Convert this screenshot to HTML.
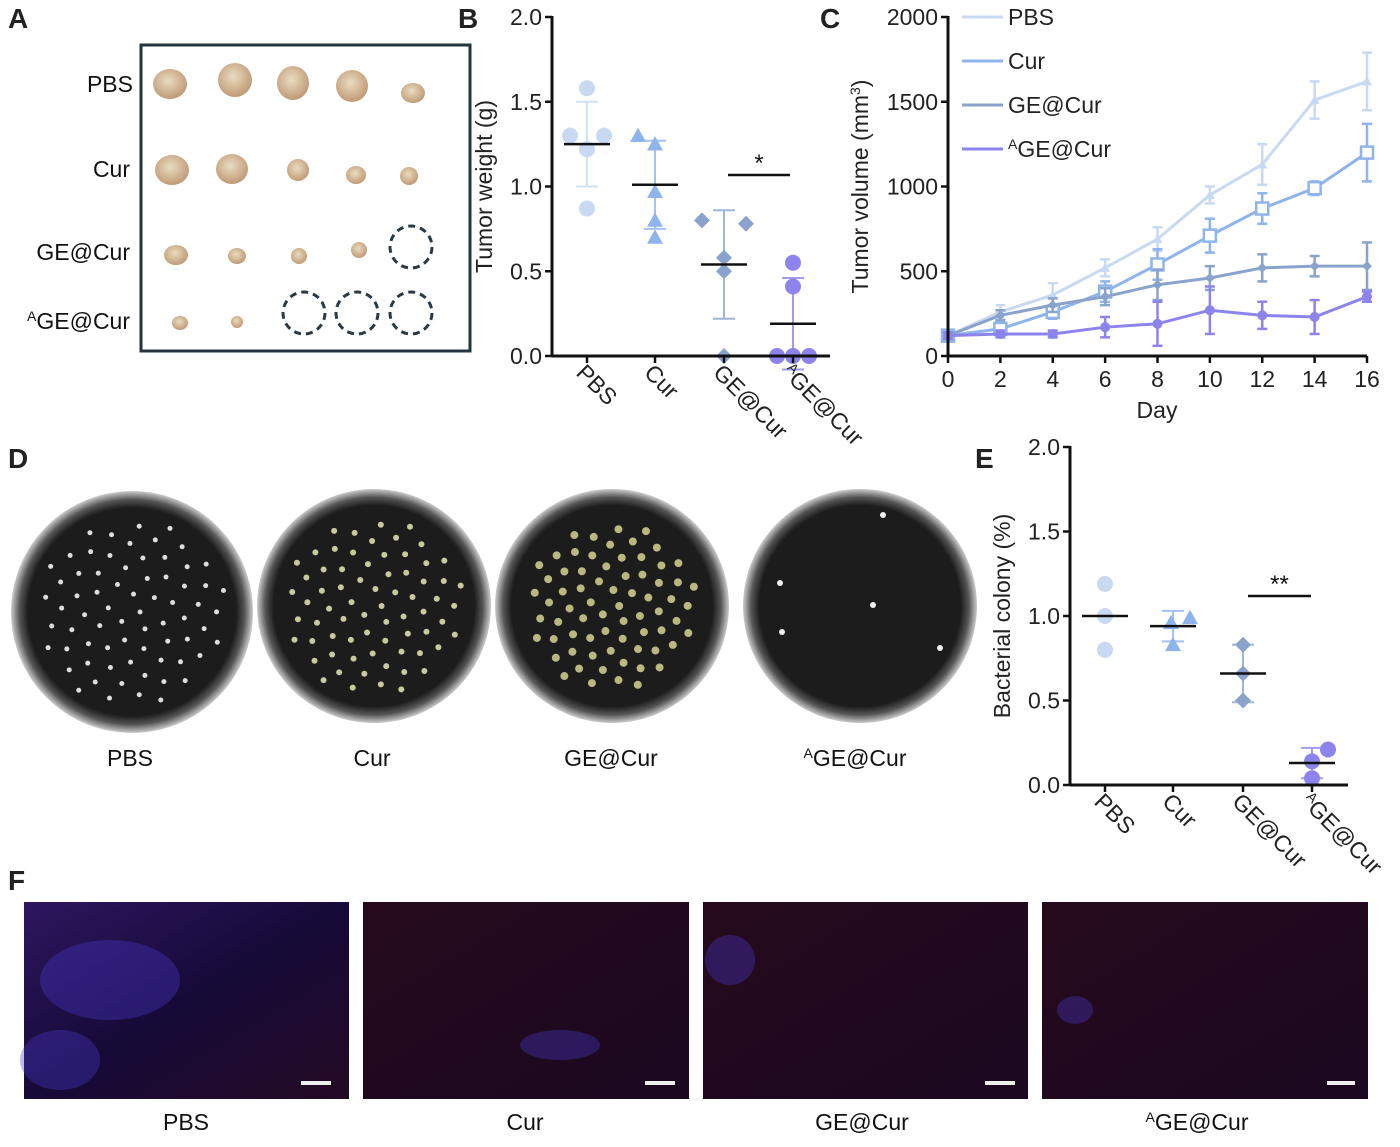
<!DOCTYPE html>
<html><head><meta charset="utf-8">
<style>
body{margin:0;background:#fff;width:1400px;height:1142px;overflow:hidden;font-family:"Liberation Sans",Arial,sans-serif;}
svg text{font-family:"Liberation Sans",Arial,sans-serif;}
</style></head>
<body>
<svg width="1400" height="1142" viewBox="0 0 1400 1142">
<defs>
<radialGradient id="plate" cx="50%" cy="50%" r="50%"><stop offset="0.86" stop-color="#1c1c1c"/><stop offset="0.93" stop-color="#555"/><stop offset="1" stop-color="#ccc"/></radialGradient>
<radialGradient id="tum" cx="45%" cy="40%" r="60%"><stop offset="0" stop-color="#e9dcc0"/><stop offset="1" stop-color="#c09a76"/></radialGradient>
<linearGradient id="fl1" x1="0" y1="0" x2="1" y2="1"><stop offset="0" stop-color="#2e1660"/><stop offset="0.5" stop-color="#160a38"/><stop offset="1" stop-color="#240a24"/></linearGradient>
<linearGradient id="fl2" x1="0" y1="0" x2="1" y2="1"><stop offset="0" stop-color="#260a1c"/><stop offset="1" stop-color="#1a0820"/></linearGradient>
</defs>
<g font-weight="bold" font-size="28" fill="#222">
<text x="8" y="28">A</text>
<text x="458" y="28">B</text>
<text x="820" y="28">C</text>
<text x="8" y="468">D</text>
<text x="975" y="468">E</text>
<text x="8" y="890">F</text>
</g>
<g>
<rect x="141" y="45" width="329" height="306" fill="#fff" stroke="#23343c" stroke-width="3"/>
<g font-size="23" fill="#111" text-anchor="end">
<text x="133" y="92">PBS</text><text x="130" y="177">Cur</text><text x="130" y="260">GE@Cur</text><text x="130" y="329"><tspan font-size="14" dy="-8">A</tspan><tspan dy="8">GE@Cur</tspan></text>
</g>
<g fill="url(#tum)">
<ellipse cx="170" cy="84" rx="17" ry="15"/><ellipse cx="235" cy="80" rx="17" ry="17"/><ellipse cx="293" cy="83" rx="16" ry="17"/><ellipse cx="352" cy="86" rx="16" ry="16"/><ellipse cx="413" cy="93" rx="12" ry="10"/>
<ellipse cx="172" cy="170" rx="17" ry="15"/><ellipse cx="232" cy="169" rx="16" ry="15"/><ellipse cx="298" cy="170" rx="11" ry="11"/><ellipse cx="356" cy="175" rx="10" ry="9"/><ellipse cx="409" cy="176" rx="9" ry="9"/>
<ellipse cx="176" cy="255" rx="12" ry="10"/><ellipse cx="237" cy="256" rx="9" ry="8"/><ellipse cx="299" cy="256" rx="8" ry="8"/><ellipse cx="359" cy="250" rx="8" ry="8"/>
<ellipse cx="180" cy="323" rx="8" ry="7"/><ellipse cx="237" cy="322" rx="6" ry="6"/>
</g>
<g fill="none" stroke="#2a3a44" stroke-width="3" stroke-dasharray="7 5">
<circle cx="411" cy="247" r="21"/><circle cx="304" cy="313" r="21"/><circle cx="357" cy="313" r="21"/><circle cx="411" cy="313" r="21"/>
</g>
</g>
<g id="chartB"></g>
<g id="chartC"></g>
<g id="chartE"></g>
<g>
<circle cx="132" cy="612" r="121" fill="url(#plate)"/>
<circle cx="374" cy="606" r="117" fill="url(#plate)"/>
<circle cx="612" cy="606" r="117" fill="url(#plate)"/>
<circle cx="860" cy="606" r="117" fill="url(#plate)"/>
<g fill="#ddd" id="dots"></g>
<g fill="#eee"><circle cx="883" cy="515" r="3"/><circle cx="780" cy="583" r="3"/><circle cx="873" cy="605" r="3"/><circle cx="782" cy="632" r="3"/><circle cx="940" cy="648" r="3"/></g>
<g font-size="23" fill="#111" text-anchor="middle">
<text x="130" y="766">PBS</text><text x="372" y="766">Cur</text><text x="611" y="766">GE@Cur</text><text x="855" y="766"><tspan font-size="14" dy="-8">A</tspan><tspan dy="8">GE@Cur</tspan></text>
</g>
</g>
<g>
<rect x="24" y="902" width="325" height="197" fill="url(#fl1)"/>
<rect x="363" y="902" width="326" height="197" fill="url(#fl2)"/>
<rect x="703" y="902" width="325" height="197" fill="url(#fl2)"/>
<rect x="1042" y="902" width="326" height="197" fill="url(#fl2)"/>
<g fill="#4a3ad0" opacity="0.35"><ellipse cx="110" cy="980" rx="70" ry="40"/><ellipse cx="60" cy="1060" rx="40" ry="30"/><ellipse cx="560" cy="1045" rx="40" ry="15"/><ellipse cx="730" cy="960" rx="25" ry="25"/><ellipse cx="1075" cy="1010" rx="18" ry="14"/></g>
<g fill="#eee"><rect x="301" y="1081" width="30" height="4"/><rect x="645" y="1081" width="30" height="4"/><rect x="985" y="1081" width="30" height="4"/><rect x="1327" y="1081" width="28" height="4"/></g>
<g font-size="23" fill="#111" text-anchor="middle">
<text x="186" y="1130">PBS</text><text x="525" y="1130">Cur</text><text x="862" y="1130">GE@Cur</text><text x="1197" y="1130"><tspan font-size="14" dy="-8">A</tspan><tspan dy="8">GE@Cur</tspan></text>
</g>
</g>
</svg>
<script>
const NS="http://www.w3.org/2000/svg";
function mk(p,t,a){const e=document.createElementNS(NS,t);for(const k in a)e.setAttribute(k,a[k]);p.appendChild(e);return e;}
const colors=["#c8d9f2","#8fb4ec","#8aa3cc","#8c84ec"];
const groups=["PBS","Cur","GE@Cur","GE@Cur"];
// Panel B data
const bPoints=[[1.58,1.30,1.22,1.30,0.87],[1.30,1.25,0.97,0.80,0.70],[0.80,0.78,0.58,0.50,0.00],[0.55,0.41,0.0,0.0,0.0]];
const bMean=[1.25,1.01,0.54,0.19];
const bSD=[0.25,0.26,0.32,0.27];
const bJitter=[[0,-17,0,17,0],[-17,0,0,0,0],[-22,22,0,0,0],[0,0,-16,0,16]];
// Panel E data
const ePoints=[[1.19,1.0,0.80],[0.96,0.99,0.83],[0.83,0.66,0.50],[0.21,0.14,0.04]];
const eMean=[1.0,0.94,0.66,0.13];
const eSD=[0.0,0.09,0.17,0.09];
const eJitter=[[0,0,0],[-2,17,0],[0,0,0],[16,0,0]];
const yTicks=["0.0","0.5","1.0","1.5","2.0"];
// Panel C data
const days=[0,2,4,6,8,10,12,14,16];
const cSeries=["PBS","Cur","GE@Cur","GE@Cur"];
const cMean=[[120,260,360,520,690,950,1130,1510,1620],[120,160,260,380,540,710,870,990,1200],[120,240,300,350,420,460,520,530,530],[120,130,130,170,190,270,240,230,350]];
const cErr=[[20,40,70,50,70,50,120,110,170],[20,30,40,60,90,100,90,40,170],[20,30,40,50,90,70,80,60,140],[20,20,20,60,130,140,80,100,30]];
const cTicks=["0","500","1000","1500","2000"];

function marker(g,i,x,y,r){
  const c=colors[i];
  let el;
  if(i===0||i===3) el=mk(g,"circle",{cx:x,cy:y,r:r,fill:c});
  else if(i===1) el=mk(g,"polygon",{points:`${x},${y-r} ${x+r},${y+r*0.8} ${x-r},${y+r*0.8}`,fill:c});
  else el=mk(g,"polygon",{points:`${x},${y-r} ${x+r},${y} ${x},${y+r} ${x-r},${y}`,fill:c});
  
  
  return el;
}

function scatter(id,ax,y0,y1,cats,right,points,jit,mean,sd,ylabel,star,starY,starX1,starX2,labelY){
  const g=document.getElementById(id);
  const ys=v=>y0+(y1-y0)*v/2.0;
  yTicks.forEach((t,k)=>{const v=k*0.5;
    mk(g,"line",{x1:ax-7,x2:ax,y1:ys(v),y2:ys(v),stroke:"#111","stroke-width":2.5});
    const tx=mk(g,"text",{x:ax-10,y:ys(v)+8,"text-anchor":"end","font-size":23,fill:"#222"});tx.textContent=t;
    });
  points.forEach((pts,i)=>{const cx=cats[i];
    const sdl=mk(g,"g",{stroke:colors[i],"stroke-width":2,opacity:0.8});
    
    mk(sdl,"line",{x1:cx,x2:cx,y1:ys(mean[i]+sd[i]),y2:ys(Math.max(0,mean[i]-sd[i]))});
    mk(sdl,"line",{x1:cx-11,x2:cx+11,y1:ys(mean[i]+sd[i]),y2:ys(mean[i]+sd[i])});
    mk(sdl,"line",{x1:cx-11,x2:cx+11,y1:ys(mean[i]-sd[i]),y2:ys(mean[i]-sd[i])});
    pts.forEach((v,k)=>marker(g,i,cx+jit[i][k],ys(v),8));
    const m=mk(g,"line",{x1:cx-23,x2:cx+23,y1:ys(mean[i]),y2:ys(mean[i]),stroke:"#111","stroke-width":2.5});
    
    mk(g,"line",{x1:cx,x2:cx,y1:y0,y2:y0+7,stroke:"#111","stroke-width":2.5});
    const lb=mk(g,"text",{transform:`translate(${cx-12},${y0+18}) rotate(45)`,"font-size":23,fill:"#222"});
    if(i===3){const ts=mk(lb,"tspan",{"font-size":14,dy:-8});ts.textContent="A";const t2=mk(lb,"tspan",{dy:8});t2.textContent="GE@Cur";}
    else lb.textContent=groups[i];
    
  });
  mk(g,"line",{x1:ax,x2:ax,y1:y1-1,y2:y0+1,stroke:"#111","stroke-width":3});
  mk(g,"line",{x1:ax,x2:right,y1:y0,y2:y0,stroke:"#111","stroke-width":3});
  mk(g,"line",{x1:starX1,x2:starX2,y1:starY,y2:starY,stroke:"#111","stroke-width":2.5});
  const st=mk(g,"text",{x:(starX1+starX2)/2,y:starY-4,"text-anchor":"middle","font-size":24,fill:"#111"});st.textContent=star;
  const yl=mk(g,"text",{transform:`translate(${labelY},${(y0+y1)/2}) rotate(-90)`,"text-anchor":"middle","font-size":23,fill:"#222"});yl.textContent=ylabel;
  
}
scatter("chartB",552,356,17,[587,655,724,793],830,bPoints,bJitter,bMean,bSD,"Tumor weight (g)","*",175,728,790,492);
scatter("chartE",1070,785,447,[1105,1173,1243,1312],1348,ePoints,eJitter,eMean,eSD,"Bacterial  colony (%)","**",596,1248,1311,1010);

(function(){
  const g=document.getElementById("chartC");
  const ax=948,x16=1367,y0=356,y1=17;
  const xs=d=>ax+(x16-ax)*d/16, ys=v=>y0+(y1-y0)*v/2000;
  cTicks.forEach((t,k)=>{const v=k*500;
    mk(g,"line",{x1:ax-7,x2:ax,y1:ys(v),y2:ys(v),stroke:"#111","stroke-width":2.5});
    const tx=mk(g,"text",{x:ax-10,y:ys(v)+8,"text-anchor":"end","font-size":23,fill:"#222"});tx.textContent=t;});
  days.forEach(d=>{mk(g,"line",{x1:xs(d),x2:xs(d),y1:y0,y2:y0+7,stroke:"#111","stroke-width":2.5});
    const tx=mk(g,"text",{x:xs(d),y:y0+31,"text-anchor":"middle","font-size":23,fill:"#222"});tx.textContent=d;});
  cMean.forEach((s,i)=>{
    const l=mk(g,"polyline",{points:s.map((v,k)=>xs(days[k])+","+ys(v)).join(" "),fill:"none",stroke:colors[i],"stroke-width":3});
    
    s.forEach((v,k)=>{const x=xs(days[k]);
      mk(g,"line",{x1:x,x2:x,y1:ys(v+cErr[i][k]),y2:ys(v-cErr[i][k]),stroke:colors[i],"stroke-width":2.5});
      mk(g,"line",{x1:x-5,x2:x+5,y1:ys(v+cErr[i][k]),y2:ys(v+cErr[i][k]),stroke:colors[i],"stroke-width":2.5});
      mk(g,"line",{x1:x-5,x2:x+5,y1:ys(v-cErr[i][k]),y2:ys(v-cErr[i][k]),stroke:colors[i],"stroke-width":2.5});
      if(i===1){const r=mk(g,"rect",{x:x-6,y:ys(v)-6,width:12,height:12,fill:"#fff",stroke:colors[i],"stroke-width":2.5});}
      else marker(g,i===0?1:i,x,ys(v),5).setAttribute('fill',colors[i]);
    });
    const ly=17+i*44;
    mk(g,"line",{x1:962,x2:1003,y1:ly,y2:ly,stroke:colors[i],"stroke-width":3});
    const lt=mk(g,"text",{x:1008,y:ly+8,"font-size":23,fill:"#222"});
    
    if(i===3){const ts=mk(lt,"tspan",{"font-size":14,dy:-8});ts.textContent="A";const t2=mk(lt,"tspan",{dy:8});t2.textContent="GE@Cur";}
    else lt.textContent=cSeries[i];
  });
  mk(g,"line",{x1:ax,x2:ax,y1:y1-1,y2:y0+1,stroke:"#111","stroke-width":3});
  mk(g,"line",{x1:ax,x2:x16,y1:y0,y2:y0,stroke:"#111","stroke-width":3});
  const xl=mk(g,"text",{x:1157,y:418,"text-anchor":"middle","font-size":23,fill:"#222"});xl.textContent="Day";
  
  const yl=mk(g,"text",{transform:`translate(868,${(y0+y1)/2}) rotate(-90)`,"text-anchor":"middle","font-size":23,fill:"#222"});
  
  const a=mk(yl,"tspan",{});a.textContent="Tumor volume (mm";const b=mk(yl,"tspan",{"font-size":14,dy:-8});b.textContent="3";const c=mk(yl,"tspan",{dy:8});c.textContent=")";
})();
(function(){const g=document.getElementById("dots");
  const centers=[[132,612,95,"#ddd",2.5],[374,606,90,"#c9c9a0",3],[612,606,85,"#b8b880",4]];
  centers.forEach(c=>{for(let k=0;k<70;k++){const a=k*2.399,r=c[2]*Math.sqrt((k+0.5)/70);
    mk(g,"circle",{cx:c[0]+r*Math.cos(a),cy:c[1]+r*Math.sin(a),r:c[4],fill:c[3]});}});
})();
</script>
</body></html>
